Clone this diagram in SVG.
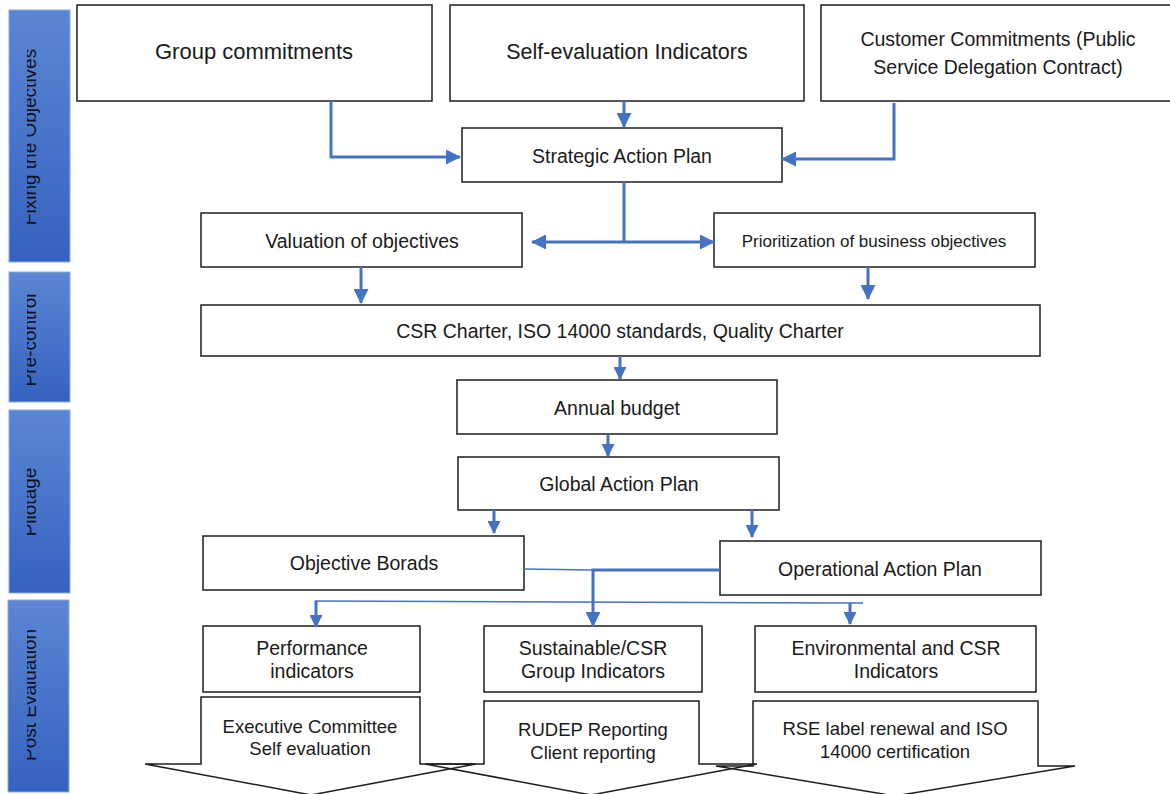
<svg xmlns="http://www.w3.org/2000/svg" width="1170" height="794" viewBox="0 0 1170 794">
<style>
.box{fill:#fff;stroke:#1e1e1e;stroke-width:1.5}
.t{font-family:"Liberation Sans",Arial,sans-serif;fill:#1a1a1a;text-anchor:middle;font-size:19.5px}
.bt{font-family:"Liberation Sans",Arial,sans-serif;fill:#111;text-anchor:middle;font-size:19px}
.bar{fill:url(#g);stroke:#8eaadc;stroke-width:1}
.c{fill:none;stroke:#4472c4;stroke-width:3}
.thin{fill:none;stroke:#4472c4;stroke-width:1.5}
.sh{fill:#fff;stroke:none}
.shl{fill:none;stroke:#1e1e1e;stroke-width:1.5}
</style>
<defs>
<linearGradient id="g" x1="0" y1="0" x2="0" y2="1">
<stop offset="0" stop-color="#5b86d3"/>
<stop offset="1" stop-color="#3562c0"/>
</linearGradient>
<marker id="a" viewBox="0 0 15 15" refX="14" refY="7.5" markerWidth="15" markerHeight="15" markerUnits="userSpaceOnUse" orient="auto">
<path d="M0,0 L15,7.5 L0,15 z" fill="#4472c4"/>
</marker>
<marker id="s" viewBox="0 0 13 13" refX="12" refY="6.5" markerWidth="13" markerHeight="13" markerUnits="userSpaceOnUse" orient="auto">
<path d="M0,0 L13,6.5 L0,13 z" fill="#4472c4"/>
</marker>
<clipPath id="cl"><rect x="27" y="0" width="45" height="794"/></clipPath>
</defs>

<g id="phases">
<rect class="bar" x="9" y="10" width="61" height="252"/>
<rect class="bar" x="9" y="272" width="61" height="130"/>
<rect class="bar" x="9" y="410" width="61" height="183"/>
<rect class="bar" x="8" y="600" width="61" height="192"/>
<g clip-path="url(#cl)">
<text class="bt" transform="translate(36,137) rotate(-90)">Fixing the Objectives</text>
<text class="bt" transform="translate(36,340) rotate(-90)">Pre-control</text>
<text class="bt" transform="translate(36,502) rotate(-90)">Pilotage</text>
<text class="bt" transform="translate(36,695) rotate(-90)">Post Evaluation</text>
</g>
</g>

<g id="n-group"><rect class="box" x="77" y="5" width="355" height="96"/><text class="t" x="254" y="59" style="font-size:22px">Group commitments</text></g>
<g id="n-self"><rect class="box" x="450" y="5" width="354" height="96"/><text class="t" x="627" y="59" style="font-size:21.5px">Self-evaluation Indicators</text></g>
<g id="n-customer"><rect class="box" x="821" y="5" width="360" height="96"/><text class="t" x="998" y="46">Customer Commitments (Public</text><text class="t" x="998" y="74">Service Delegation Contract)</text></g>
<g id="n-strategic"><rect class="box" x="462" y="128" width="320" height="54"/><text class="t" x="622" y="163">Strategic Action Plan</text></g>
<g id="n-valuation"><rect class="box" x="201" y="213" width="321" height="54"/><text class="t" x="362" y="248">Valuation of objectives</text></g>
<g id="n-prior"><rect class="box" x="714" y="213" width="321" height="54"/><text class="t" x="874" y="247" style="font-size:17px">Prioritization of business objectives</text></g>
<g id="n-csr"><rect class="box" x="201" y="305" width="839" height="51"/><text class="t" x="620" y="338">CSR Charter, ISO 14000 standards, Quality Charter</text></g>
<g id="n-budget"><rect class="box" x="457" y="380" width="320" height="54"/><text class="t" x="617" y="415">Annual budget</text></g>
<g id="n-global"><rect class="box" x="458" y="457" width="321" height="53"/><text class="t" x="619" y="491">Global Action Plan</text></g>
<g id="n-objb"><rect class="box" x="203" y="536" width="321" height="54"/><text class="t" x="364" y="570">Objective Borads</text></g>
<g id="n-oper"><rect class="box" x="720" y="541" width="321" height="54"/><text class="t" x="880" y="576">Operational Action Plan</text></g>
<g id="n-perf"><rect class="box" x="203" y="626" width="217" height="66"/><text class="t" x="312" y="655">Performance</text><text class="t" x="312" y="678">indicators</text></g>
<g id="n-sust"><rect class="box" x="484" y="626" width="218" height="66"/><text class="t" x="593" y="655">Sustainable/CSR</text><text class="t" x="593" y="678">Group Indicators</text></g>
<g id="n-env"><rect class="box" x="755" y="626" width="281" height="66"/><text class="t" x="896" y="655">Environmental and CSR</text><text class="t" x="896" y="678">Indicators</text></g>

<g id="outcomes">
<path class="sh" d="M201,697 H420 V764 H476 L311,795 L145,764 H201 Z"/>
<path class="sh" d="M484,701 H699 V764 H757 L591,795 L425,764 H484 Z"/>
<path class="sh" d="M753,701 H1038 V766 H1075 L895,796 L716,766 H753 Z"/>
<path class="shl" d="M201,697 H420 V764 H476 L311,795 L145,764 H201 Z"/>
<path class="shl" d="M484,701 H699 V764 H757 L591,795 L425,764 H484 Z"/>
<path class="shl" d="M753,701 H1038 V766 H1075 L895,796 L716,766 H753 Z"/>
<text class="t" x="310" y="733" style="font-size:18.5px">Executive Committee</text>
<text class="t" x="310" y="755" style="font-size:18.5px">Self evaluation</text>
<text class="t" x="593" y="736" style="font-size:18.5px">RUDEP Reporting</text>
<text class="t" x="593" y="759" style="font-size:18.5px">Client reporting</text>
<text class="t" x="895" y="735" style="font-size:18.5px">RSE label renewal and ISO</text>
<text class="t" x="895" y="758" style="font-size:18.5px">14000 certification</text>
</g>

<g id="connectors">
<polyline class="c" points="331,101 331,157 460,157" marker-end="url(#a)"/>
<line class="c" x1="624" y1="101" x2="624" y2="127" marker-end="url(#a)"/>
<polyline class="c" points="894,103 894,159 782,159" marker-end="url(#a)"/>
<line class="c" x1="624" y1="182" x2="624" y2="242"/>
<line class="c" x1="624" y1="242" x2="532" y2="242" marker-end="url(#a)"/>
<line class="c" x1="624" y1="242" x2="714" y2="242" marker-end="url(#a)"/>
<line class="c" x1="361" y1="267" x2="361" y2="303" marker-end="url(#a)"/>
<line class="c" x1="868" y1="267" x2="868" y2="299" marker-end="url(#a)"/>
<line class="c" x1="620" y1="356" x2="620" y2="379" marker-end="url(#s)"/>
<line class="c" x1="608" y1="434" x2="608" y2="456" marker-end="url(#s)"/>
<line class="c" x1="494" y1="510" x2="494" y2="533" marker-end="url(#s)"/>
<line class="c" x1="752" y1="510" x2="752" y2="537" marker-end="url(#s)"/>
<line class="thin" x1="524" y1="569" x2="593" y2="570"/>
<polyline class="c" points="720,570 593,570 593,626" marker-end="url(#a)"/>
<line class="thin" x1="315" y1="601" x2="863" y2="603"/>
<line class="c" x1="316" y1="601" x2="316" y2="627" marker-end="url(#s)"/>
<line class="c" x1="850" y1="603" x2="850" y2="624" marker-end="url(#s)"/>
</g>
</svg>
